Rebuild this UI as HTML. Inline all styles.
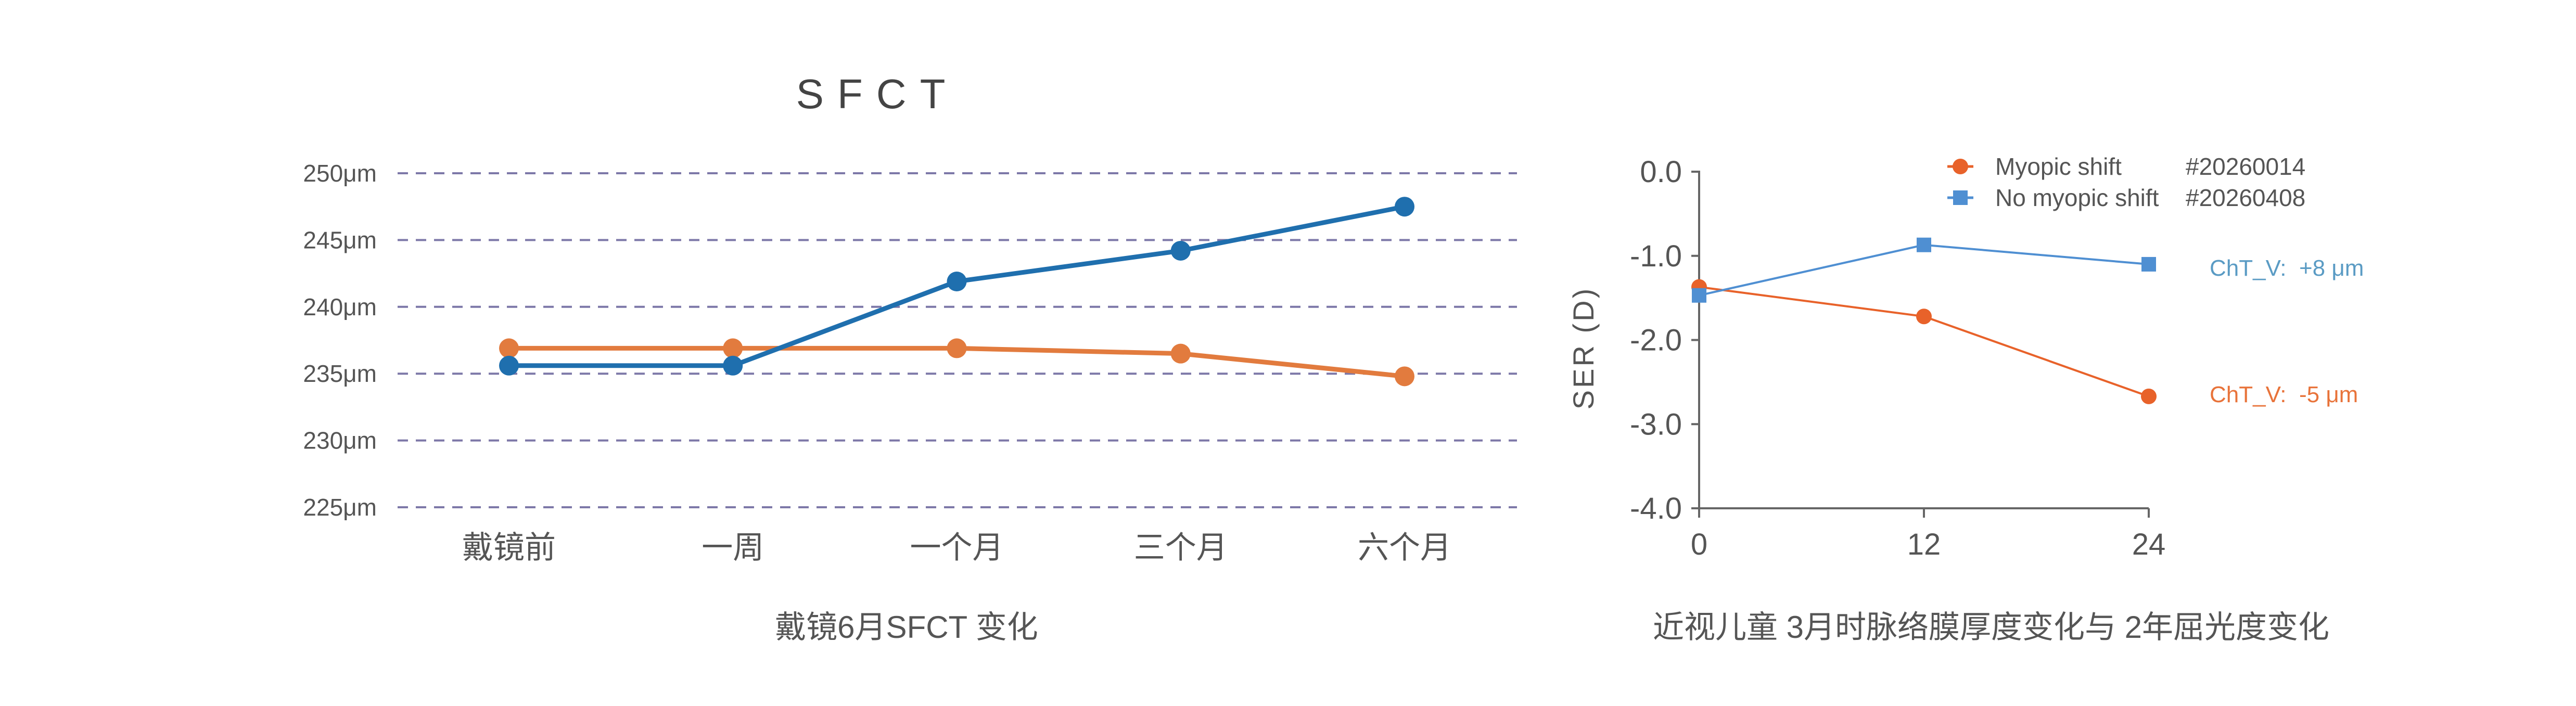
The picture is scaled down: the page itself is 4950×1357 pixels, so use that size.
<!DOCTYPE html>
<html><head><meta charset="utf-8"><style>
html,body{margin:0;padding:0;background:#fff;overflow:hidden}
svg text{font-family:"Liberation Sans","Noto Sans CJK SC",sans-serif;white-space:pre}
</style></head><body>
<svg id="c" width="4950" height="1352" viewBox="0 0 4950 1352" xmlns="http://www.w3.org/2000/svg">
<rect width="4950" height="1352" fill="#fff"/>
<text x="1686" y="208" font-size="80" fill="#444" text-anchor="middle" letter-spacing="26">SFCT</text>
<text x="1742" y="1226" font-size="60" fill="#555" text-anchor="middle">戴镜6月SFCT 变化</text>
<text x="3826" y="1226" font-size="60" fill="#555" text-anchor="middle">近视儿童 3月时脉络膜厚度变化与 2年屈光度变化</text>
<g id="L"></g><g id="R"></g>
</svg>
<script>
const ns="http://www.w3.org/2000/svg";
function mk(p,t,a){const e=document.createElementNS(ns,t);for(const k in a)e.setAttribute(k,a[k]);p.appendChild(e);return e;}
// Left chart data
const leftCategories=["戴镜前","一周","一个月","三个月","六个月"];
const leftTicks=[225,230,235,240,245,250];
const blueSeries=[235.6,235.6,241.9,244.2,247.5];
const orangeSeries=[236.9,236.9,236.9,236.5,234.8];
// Right chart data
const rightX=[0,12,24];
const rightYTicks=[0,-1,-2,-3,-4];
const myopicShift=[-1.37,-1.72,-2.67];
const noMyopicShift=[-1.47,-0.87,-1.10];

const L=document.getElementById('L');
const lx=i=>978+i*430.25;
const ly=v=>975-(v-225)*(975-333)/25;
leftTicks.forEach(t=>{
  const g=mk(L,'line',{x1:764,x2:2915,y1:ly(t),y2:ly(t),stroke:'#7d78a8','stroke-width':4,'stroke-dasharray':'20 15'});
  
  
  const tx=mk(L,'text',{x:724,y:ly(t)+16,'font-size':46,fill:'#555','text-anchor':'end'});tx.textContent=t+'μm';
  
  
});
leftCategories.forEach((c,i)=>{
  const tx=mk(L,'text',{x:lx(i),y:1073,'font-size':60,fill:'#555','text-anchor':'middle'});tx.textContent=c;
  
  
});
function lseries(p,arr,col,name,xf,yf,w,r,sq){
  const pl=mk(p,'polyline',{points:arr.map((v,i)=>xf(i)+','+yf(v)).join(' '),fill:'none',stroke:col,'stroke-width':w});
  
  
  arr.forEach((v,i)=>{
    let m;
    if(sq) m=mk(p,'rect',{x:xf(i)-r,y:yf(v)-r,width:2*r,height:2*r,fill:col});
    else m=mk(p,'circle',{cx:xf(i),cy:yf(v),r:r,fill:col});
    
    
  });
}
lseries(L,orangeSeries,'#e27b3e','orange-series',lx,ly,9,19);
lseries(L,blueSeries,'#1f6fae','blue-series',lx,ly,9,19);

const R=document.getElementById('R');
const rx=v=>3265+v*(4129-3265)/24;
const ry=v=>330+(-v)*(977-330)/4;
const ax=mk(R,'polyline',{points:`3250,${ry(0)} 3265,${ry(0)} 3265,${ry(-4)} ${rx(24)},${ry(-4)}`,fill:'none',stroke:'#666','stroke-width':4});


rightYTicks.forEach(t=>{
  const l=mk(R,'line',{x1:3250,x2:3265,y1:ry(t),y2:ry(t),stroke:'#666','stroke-width':4});
  
  
  const tx=mk(R,'text',{x:3232,y:ry(t)+20,'font-size':58,fill:'#555','text-anchor':'end'});tx.textContent=t.toFixed(1);
  
  
});
rightX.forEach(t=>{
  const l=mk(R,'line',{x1:rx(t),x2:rx(t),y1:ry(-4),y2:ry(-4)+18,stroke:'#666','stroke-width':4});
  
  
  const tx=mk(R,'text',{x:rx(t),y:1066,'font-size':58,fill:'#555','text-anchor':'middle'});tx.textContent=t;
  
  
});
const yt=mk(R,'text',{x:0,y:0,'font-size':56,fill:'#555','text-anchor':'middle',transform:'translate(3062,669) rotate(-90)','letter-spacing':4});yt.textContent='SER (D)';


const rxi=i=>rx(rightX[i]);
lseries(R,myopicShift,'#e8622a','myopic-shift',rxi,ry,4,15);
lseries(R,noMyopicShift,'#4f8fd2','no-myopic-shift',rxi,ry,4,14,true);
// legend
[[320,'#e8622a','Myopic shift','#20260014',false],[380,'#4f8fd2','No myopic shift','#20260408',true]].forEach(([y,c,a,b,sq],k)=>{
  const ln=mk(R,'line',{x1:3742,x2:3792,y1:y,y2:y,stroke:c,'stroke-width':5});
  
  
  const m=sq?mk(R,'rect',{x:3753,y:y-14,width:28,height:28,fill:c}):mk(R,'circle',{cx:3767,cy:y,r:15,fill:c});
  
  
  const t1=mk(R,'text',{x:3834,y:y+16,'font-size':46,fill:'#555'});t1.textContent=a;
  
  
  const t2=mk(R,'text',{x:4200,y:y+16,'font-size':46,fill:'#555'});t2.textContent=b;
  
  
});
const a1=mk(R,'text',{x:4246,y:530,'font-size':44,fill:'#5a9bc4'});a1.textContent='ChT_V:  +8 μm';


const a2=mk(R,'text',{x:4246,y:773,'font-size':44,fill:'#e8733a'});a2.textContent='ChT_V:  -5 μm';


</script>
</body></html>
